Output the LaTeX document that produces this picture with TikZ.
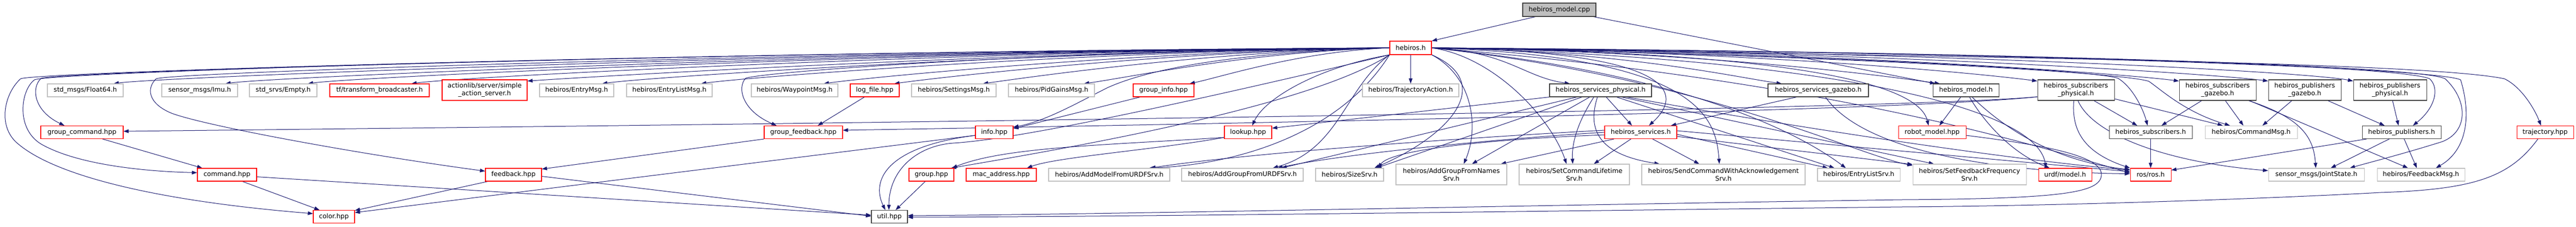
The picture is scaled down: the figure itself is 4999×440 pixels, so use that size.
\documentclass[tikz,border=0pt]{standalone}
\usepackage{fontspec}
\newfontfamily\dfont{DejaVu Sans}
\usetikzlibrary{arrows.meta}
\pgfdeclarelayer{bg}
\pgfsetlayers{bg,main}
\definecolor{edgec}{HTML}{191970}
\definecolor{redc}{HTML}{FF0000}
\definecolor{grayc}{HTML}{BFBFBF}
\definecolor{blkc}{HTML}{404040}
\definecolor{cppfill}{HTML}{BFBFBF}
\tikzset{
  nb/.style={draw, line width=1.1pt, inner sep=0pt, minimum height=25pt, fill=white,
    font=\dfont\fontsize{12.6pt}{15pt}\selectfont, align=center, text=black},
  rn/.style={nb, draw=redc},
  gn/.style={nb, draw=grayc},
  bn/.style={nb, draw=blkc},
  two/.style={minimum height=40pt},
  e/.style={draw=edgec, line width=1pt, -{Triangle[length=10pt,width=7pt]}},
}
\begin{document}
\begin{tikzpicture}[x=1pt,y=-1pt]
\useasboundingbox (0,0) rectangle (4999,440);
% row 0/1
\node[nb, draw=blkc, fill=cppfill, minimum width=142pt, minimum height=26pt] (cpp) at (3026,19) {hebiros\_model.cpp};
\node[rn, minimum width=81pt, minimum height=26pt] (h) at (2737.5,93) {hebiros.h};
% row 2
\node[gn, minimum width=147pt] (flt) at (165.5,175.5) {std\_msgs/Float64.h};
\node[gn, minimum width=147pt] (imu) at (387.5,175.5) {sensor\_msgs/Imu.h};
\node[gn, minimum width=131pt] (empty) at (549.5,175.5) {std\_srvs/Empty.h};
\node[rn, minimum width=193pt] (tf) at (736.5,175.5) {tf/transform\_broadcaster.h};
\node[rn, two, minimum width=165pt] (act) at (940.5,175) {actionlib/server/simple\\\_action\_server.h};
\node[gn, minimum width=144pt] (entrymsg) at (1119,175.5) {hebiros/EntryMsg.h};
\node[gn, minimum width=166pt] (entrylistmsg) at (1299,175.5) {hebiros/EntryListMsg.h};
\node[gn, minimum width=168pt] (waypoint) at (1542,175.5) {hebiros/WaypointMsg.h};
\node[rn, minimum width=95pt] (logfile) at (1697.5,175.5) {log\_file.hpp};
\node[gn, minimum width=164pt] (settings) at (1851,175.5) {hebiros/SettingsMsg.h};
\node[gn, minimum width=167pt] (pid) at (2040.5,175.5) {hebiros/PidGainsMsg.h};
\node[rn, minimum width=118pt] (ginfo) at (2258,175.5) {group\_info.hpp};
\node[gn, minimum width=187pt] (trajact) at (2737.5,175.5) {hebiros/TrajectoryAction.h};
\node[bn, minimum width=198pt] (sphys) at (3106,175.5) {hebiros\_services\_physical.h};
\node[bn, minimum width=195pt] (sgaz) at (3528.5,175.5) {hebiros\_services\_gazebo.h};
\node[bn, minimum width=128pt] (modelh) at (3815,175.5) {hebiros\_model.h};
\node[bn, two, minimum width=149pt] (subphys) at (4028.5,175) {hebiros\_subscribers\\\_physical.h};
\node[bn, two, minimum width=149pt] (subgaz) at (4303.5,175) {hebiros\_subscribers\\\_gazebo.h};
\node[bn, two, minimum width=141pt] (pubgaz) at (4472.5,175) {hebiros\_publishers\\\_gazebo.h};
\node[bn, two, minimum width=142pt] (pubphys) at (4638,175) {hebiros\_publishers\\\_physical.h};
% row 3
\node[rn, minimum width=160pt] (gcmd) at (159,257) {group\_command.hpp};
\node[rn, minimum width=152pt] (gfb) at (1559,257) {group\_feedback.hpp};
\node[rn, minimum width=73pt] (info) at (1929.5,257) {info.hpp};
\node[rn, minimum width=92pt] (lookup) at (2422,257) {lookup.hpp};
\node[rn, minimum width=140pt] (serv) at (3184,257) {hebiros\_services.h};
\node[rn, minimum width=131pt] (rmodel) at (3749.5,257) {robot\_model.hpp};
\node[bn, minimum width=161pt] (subs) at (4173.5,257) {hebiros\_subscribers.h};
\node[gn, minimum width=179pt] (cmdmsg) at (4368.5,257) {hebiros/CommandMsg.h};
\node[bn, minimum width=153pt] (pubs) at (4660.5,257) {hebiros\_publishers.h};
\node[rn, minimum width=110pt] (traj) at (4939,257) {trajectory.hpp};
% row 4
\node[rn, minimum width=115pt] (command) at (440.5,339.5) {command.hpp};
\node[rn, minimum width=109pt] (feedback) at (996.5,339.5) {feedback.hpp};
\node[rn, minimum width=87pt] (group) at (1807.5,339.5) {group.hpp};
\node[rn, minimum width=136pt] (mac) at (1943,339.5) {mac\_address.hpp};
\node[gn, minimum width=235pt] (addmodel) at (2152.5,339.5) {hebiros/AddModelFromURDFSrv.h};
\node[gn, minimum width=236pt] (addgurdf) at (2411,339.5) {hebiros/AddGroupFromURDFSrv.h};
\node[gn, minimum width=132pt] (sizesrv) at (2619,339.5) {hebiros/SizeSrv.h};
\node[gn, two, minimum width=215pt] (addgnames) at (2816.5,339) {hebiros/AddGroupFromNames\\Srv.h};
\node[gn, two, minimum width=214pt] (setcmd) at (3055,339) {hebiros/SetCommandLifetime\\Srv.h};
\node[gn, two, minimum width=317pt] (sendcmd) at (3344.5,339) {hebiros/SendCommandWithAcknowledgement\\Srv.h};
\node[gn, minimum width=160pt] (elsrv) at (3607,339.5) {hebiros/EntryListSrv.h};
\node[gn, two, minimum width=220pt] (setfb) at (3822,339) {hebiros/SetFeedbackFrequency\\Srv.h};
\node[rn, minimum width=103pt] (urdf) at (4007.5,339.5) {urdf/model.h};
\node[rn, minimum width=79pt] (ros) at (4173.5,339.5) {ros/ros.h};
\node[gn, minimum width=186pt] (joint) at (4495,339.5) {sensor\_msgs/JointState.h};
\node[gn, minimum width=170pt] (fbmsg) at (4698,339.5) {hebiros/FeedbackMsg.h};
% row 5
\node[rn, minimum width=80pt] (color) at (648,421) {color.hpp};
\node[bn, minimum width=70pt] (util) at (1726,421) {util.hpp};

\begin{pgfonlayer}{bg}
\fill[white] (0,0) rectangle (4999,440);
% cpp
\draw[e] ([xshift=25pt]cpp.south west) -- (h.north east);
\draw[e] ([xshift=-5pt]cpp.south east) -- ([xshift=5pt]modelh.north west);
% hebiros.h -> row 2 left
\draw[e] (h.west) .. controls (1582,100) and (310,150) .. ([xshift=-19pt]flt.north east);
\draw[e] (h.west) .. controls (1680,100) and (527,150) .. ([xshift=-24pt]imu.north east);
\draw[e] (h.west) .. controls (1752,100) and (687,150) .. ([xshift=-18pt]empty.north east);
\draw[e] (h.west) .. controls (1842,100) and (888,150) .. ([xshift=-35pt]tf.north east);
\draw[e] (h.west) .. controls (1944,100) and (1100,152) .. ([yshift=-3pt]act.north east);
\draw[e] (h.west) .. controls (2009,100) and (1258,150) .. ([xshift=-23pt]entrymsg.north east);
\draw[e] (h.west) .. controls (2095,100) and (1450,150) .. ([xshift=-22pt]entrylistmsg.north east);
\draw[e] (h.west) .. controls (2202,100) and (1688,150) .. ([xshift=-28pt]waypoint.north east);
\draw[e] (h.west) .. controls (2264,100) and (1825,150) .. ([xshift=-10pt]logfile.north east);
\draw[e] (h.west) .. controls (2341,100) and (1997,150) .. ([xshift=-26pt]settings.north east);
\draw[e] (h.west) .. controls (2430,100) and (2193,150) .. ([xshift=-21pt]pid.north east);
\draw[e] (h.west) .. controls (2522,100) and (2368,150) .. ([xshift=-9pt]ginfo.north east);
\draw[e] (h.south) -- (trajact.north);
% hebiros.h -> row 2 right
\draw[e] (h.east) .. controls (2926,100) and (2957,150) .. ([xshift=40pt]sphys.north west);
\draw[e] (h.east) .. controls (3152,100) and (3368,150) .. ([xshift=27pt]sgaz.north west);
\draw[e] (h.east) .. controls (3321,100) and (3675,150) .. ([xshift=14pt]modelh.north west);
\draw[e] (h.east) .. controls (3425,100) and (3860,145) .. ([yshift=-3pt]subphys.north west);
\draw[e] (h.east) .. controls (3576,100) and (4135,145) .. ([yshift=-3pt]subgaz.north west);
\draw[e] (h.east) .. controls (3671,100) and (4310,145) .. ([yshift=-3pt]pubgaz.north west);
\draw[e] (h.east) .. controls (3762,100) and (4480,140) .. ([yshift=-3pt]pubphys.north west);
% hebiros.h -> left loops
\draw[e] (h.west) .. controls (1400,100) and (120,140) .. (80,152) .. controls (60,170) and (65,215) .. ([xshift=-34pt]gcmd.north);
\draw[e] (h.west) .. controls (1400,100) and (100,140) .. (67,155) .. controls (40,175) and (30,250) .. (80,280) .. controls (150,320) and (280,333) .. ([yshift=4pt]command.west);
\draw[e] (h.west) .. controls (1400,100) and (70,140) .. (40,153) .. controls (10,180) and (-5,240) .. (30,275) .. controls (100,340) and (300,390) .. ([yshift=6pt]color.west);
\draw[e] (h.west) .. controls (1600,100) and (340,140) .. (303,153) .. controls (285,170) and (285,200) .. (333,220) .. controls (400,245) and (700,300) .. ([yshift=7pt]feedback.west);
\draw[e] (h.west) .. controls (2000,100) and (1480,140) .. (1447,152) .. controls (1430,170) and (1440,215) .. ([xshift=-52pt]gfb.north);
% hebiros.h -> middle
\draw[e] (h.west) .. controls (2450,100) and (2250,125) .. (2150,170) .. controls (2090,200) and (2030,235) .. ([yshift=-3pt]info.north east);
\draw[e] (h.south west) .. controls (2560,130) and (2455,190) .. ([xshift=8pt]lookup.north);
\draw[e] (h.south west) .. controls (2550,200) and (2150,275) .. ([xshift=38pt]group.north);
\draw[e] (h.south west) .. controls (2600,260) and (2400,320) .. ([xshift=77pt]addmodel.north);
\draw[e] (h.south west) .. controls (2610,170) and (2600,290) .. ([xshift=59pt]addgurdf.north);
\draw[e] (h.south east) .. controls (2900,160) and (2820,260) .. ([xshift=48pt]sizesrv.north);
\draw[e] (h.south east) .. controls (2860,150) and (2870,250) .. ([xshift=24pt]addgnames.north);
\draw[e] (h.east) .. controls (2900,110) and (3010,230) .. ([xshift=-15pt]setcmd.north);
\draw[e] (h.east) .. controls (3300,110) and (3330,230) .. ([xshift=-8pt]sendcmd.north);
\draw[e] (h.east) .. controls (3250,100) and (3270,180) .. ([xshift=16pt]serv.north);
\draw[e] (h.east) .. controls (3250,140) and (3480,250) .. ([xshift=-25pt]elsrv.north);
\draw[e] (h.east) .. controls (3300,150) and (3600,300) .. ([yshift=-3pt]setfb.north west);
\draw[e] (h.east) .. controls (3400,100) and (3720,150) .. ([xshift=-7pt]rmodel.north);
\draw[e] (h.east) .. controls (3500,110) and (3950,200) .. ([xshift=-37pt]urdf.north);
\draw[e] (h.east) .. controls (3600,160) and (4000,300) .. ([yshift=4pt]ros.west);
\draw[e] (h.south west) .. controls (2300,200) and (1980,270) .. (1850,278) .. controls (1780,283) and (1725,330) .. ([xshift=-1pt]util.north);
% hebiros.h -> far right
\draw[e] (h.east) .. controls (3500,105) and (4060,135) .. (4110,152) .. controls (4140,170) and (4160,215) .. ([xshift=-6pt]subs.north);
\draw[e] (h.east) .. controls (3500,105) and (4120,140) .. (4170,158) .. controls (4195,175) and (4240,218) .. ([xshift=-41pt]cmdmsg.north);
\draw[e] (h.east) .. controls (3800,100) and (4650,125) .. (4715,153) .. controls (4735,172) and (4725,210) .. ([xshift=22pt]pubs.north);
\draw[e] (h.east) .. controls (3800,100) and (4720,130) .. (4775,155) .. controls (4795,220) and (4790,290) .. ([xshift=29pt]fbmsg.north);
\draw[e] (h.east) .. controls (3800,100) and (4690,125) .. (4745,153) .. controls (4790,195) and (4790,255) .. (4740,275) .. controls (4660,300) and (4600,315) .. ([xshift=65pt]joint.north);
\draw[e] (h.east) .. controls (3800,110) and (4700,120) .. (4860,153) .. controls (4895,170) and (4920,215) .. ([xshift=-8pt]traj.north);
% left cluster
\draw[e] ([xshift=40pt]gcmd.south) -- ([xshift=-48pt]command.north);
\draw[e] ([xshift=30pt]command.south) -- ([xshift=-28pt]color.north);
\draw[e] ([yshift=-4pt]command.east) -- ([yshift=3pt]util.west);
\draw[e] ([xshift=-50pt]feedback.south) -- ([yshift=12pt]color.east);
\draw[e] ([yshift=-3pt]feedback.east) -- ([yshift=1pt]util.west);
\draw[e] (gfb.south west) -- ([yshift=-2pt]feedback.north east);
\draw[e] ([xshift=-20pt]logfile.south) -- ([xshift=28pt]gfb.north);
\draw[e] ([xshift=14pt]ginfo.south west) -- ([yshift=-6pt]info.north east);
\draw[e] ([yshift=-6pt]info.west) -- ([yshift=8pt]color.east);
\draw[e] ([yshift=-6pt]info.west) .. controls (1720,285) and (1690,350) .. ([xshift=-8pt]util.north);
\draw[e] ([xshift=-12pt]group.south) -- ([xshift=12pt]util.north);
\draw[e] ([yshift=-10pt]lookup.west) .. controls (2150,282) and (1950,285) .. ([xshift=40pt]group.north);
\draw[e] ([yshift=-10pt]lookup.west) .. controls (2250,290) and (2050,305) .. ([xshift=50pt]mac.north);
% services physical
\draw[e] (sphys.south west) -- ([yshift=-5pt]lookup.north east);
\draw[e] ([xshift=11pt]sphys.south) -- ([xshift=-17pt]serv.north);
\draw[e] ([xshift=-13pt]sphys.south) .. controls (3060,240) and (3050,280) .. ([xshift=-3pt]setcmd.north);
\draw[e] ([xshift=-6pt]sphys.south) .. controls (3080,250) and (3100,300) .. ([xshift=-124pt]sendcmd.north);
\draw[e] ([xshift=-21pt]sphys.south) -- ([xshift=40pt]addgnames.north);
\draw[e] ([xshift=-36pt]sphys.south) -- ([xshift=52pt]sizesrv.north);
\draw[e] ([xshift=-46pt]sphys.south) -- ([xshift=76pt]addgurdf.north);
\draw[e] ([xshift=31pt]sphys.south) -- ([xshift=-47pt]elsrv.north);
\draw[e] ([xshift=41pt]sphys.south) -- ([xshift=-69pt]setfb.north);
\draw[e] ([xshift=51pt]sphys.south) .. controls (3500,250) and (3900,310) .. ([yshift=9pt]ros.west);
% services.h
\draw[e] ([xshift=-52pt]serv.south) -- ([xshift=96pt]addgnames.north);
\draw[e] ([xshift=-19pt]serv.south) -- ([xshift=38pt]setcmd.north);
\draw[e] ([xshift=23pt]serv.south) -- ([xshift=-47pt]sendcmd.north);
\draw[e] ([yshift=4pt]serv.west) .. controls (2800,270) and (2400,300) .. ([xshift=80pt]addmodel.north);
\draw[e] (serv.west) .. controls (2900,270) and (2600,300) .. ([xshift=68pt]addgurdf.north);
\draw[e] ([yshift=-5pt]serv.west) .. controls (2900,270) and (2700,290) .. ([xshift=55pt]sizesrv.north);
\draw[e] ([yshift=-4pt]serv.east) -- ([xshift=-60pt]elsrv.north);
\draw[e] ([yshift=-8pt]serv.east) -- ([yshift=-1pt]setfb.north west);
\draw[e] ([yshift=3pt]serv.east) -- ([yshift=6pt]ros.west);
% services gazebo
\draw[e] ([xshift=-42pt]sgaz.south) -- ([xshift=-12pt]serv.north east);
\draw[e] ([xshift=14pt]sgaz.south) .. controls (3620,300) and (3900,335) .. ([yshift=2pt]ros.west);
% model.h
\draw[e] ([xshift=-10pt]modelh.south) -- ([xshift=14pt]rmodel.north);
\draw[e] ([xshift=7pt]modelh.south) .. controls (3855,245) and (3910,300) .. ([xshift=-30pt]urdf.north);
\draw[e] ([xshift=12pt]modelh.south) .. controls (3900,260) and (4000,315) .. ([yshift=10pt]ros.west);
% subscribers physical
\draw[e] ([yshift=-13pt]subphys.west) .. controls (3700,212) and (2000,236) .. ([yshift=2pt]gcmd.east);
\draw[e] ([yshift=-13pt]subphys.west) .. controls (3700,216) and (2300,242) .. ([yshift=4pt]gfb.east);
\draw[e] ([xshift=35pt]subphys.south) -- ([xshift=-26pt]subs.north);
\draw[e] ([yshift=-17pt]subphys.east) -- ([xshift=-55pt]cmdmsg.north);
\draw[e] ([xshift=-4pt]subphys.south) .. controls (4020,250) and (4040,295) .. ([yshift=13pt]ros.west);
\draw[e] ([xshift=4pt]subphys.south) .. controls (4060,260) and (4200,315) .. ([yshift=8pt]joint.west);
% subscribers gazebo
\draw[e] ([xshift=-31pt]subgaz.south) -- ([xshift=21pt]subs.north);
\draw[e] ([xshift=15pt]subgaz.south) -- ([xshift=-15pt]cmdmsg.north);
\draw[e] ([xshift=60pt]subgaz.south) .. controls (4470,230) and (4490,270) .. ([xshift=-1pt]joint.north);
\draw[e] ([xshift=62pt]subgaz.south) -- ([xshift=-25pt]fbmsg.north);
% publishers
\draw[e] ([xshift=-25pt]pubgaz.south) -- ([xshift=22pt]cmdmsg.north);
\draw[e] ([xshift=45pt]pubgaz.south) -- ([xshift=-33pt]pubs.north);
\draw[e] ([xshift=5pt]pubphys.south) -- ([xshift=-6pt]pubs.north);
\draw[e] ([xshift=-24pt]pubs.south) -- ([xshift=28pt]joint.north);
\draw[e] ([xshift=5pt]pubs.south) -- ([xshift=-8pt]fbmsg.north);
\draw[e] ([xshift=-68pt]pubs.south) -- ([yshift=9pt]ros.east);
\draw[e] (subs.south) -- (ros.north);
% to util from the right
\draw[e] ([yshift=-6pt]rmodel.east) .. controls (3950,280) and (4080,300) .. (4078,340) .. controls (4076,375) and (4000,386) .. (3690,388) .. controls (3000,398) and (2200,416) .. ([yshift=2pt]util.east);
\draw[e] ([xshift=-14pt]traj.south) .. controls (4870,345) and (4800,368) .. (4620,374) .. controls (4400,386) and (4000,400) .. (3690,402) .. controls (3000,410) and (2200,421) .. ([yshift=-1pt]util.east);
\end{pgfonlayer}
\end{tikzpicture}
\end{document}
